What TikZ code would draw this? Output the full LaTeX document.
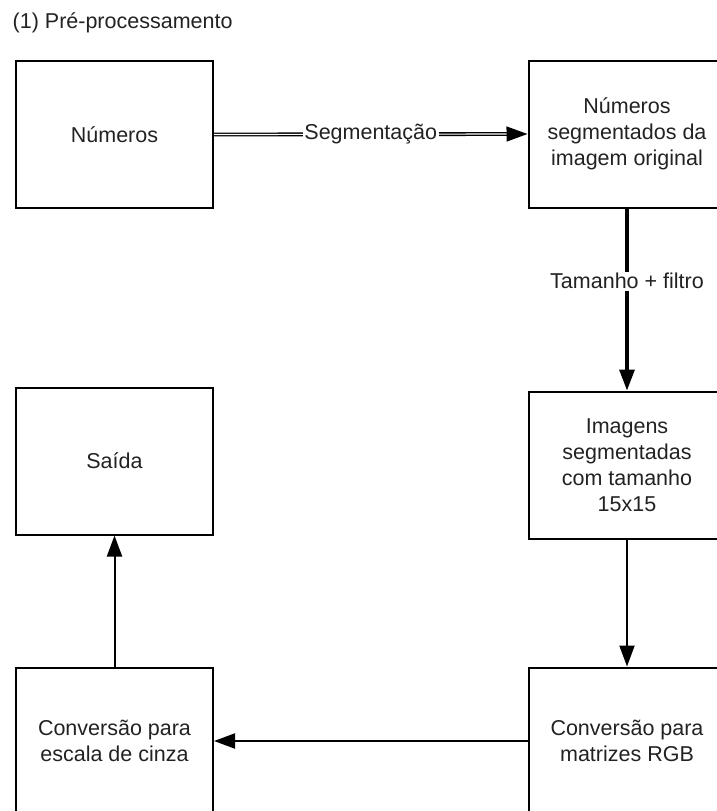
\documentclass[tikz,border=0pt]{standalone}
\usepackage{fontspec}
\setmainfont{Liberation Sans}
\usetikzlibrary{arrows.meta}
\definecolor{ink}{HTML}{222222}
\begin{document}
\begin{tikzpicture}[x=1pt,y=-1pt,
  txt/.style={text=ink, font=\fontsize{21.5}{26}\selectfont},
  box/.style={txt, draw=black, line width=2pt, minimum width=197pt,
    minimum height=147pt, align=center, inner sep=0pt},
  lbl/.style={txt, fill=white, inner sep=1.5pt},
  tip/.style={-{Triangle[length=21pt,width=15pt]}},
  flow/.style={tip, draw=black, line width=2pt},
]
\useasboundingbox (0,0) rectangle (717,811);
\clip (0,0) rectangle (717,811);

% heading
\node[txt, anchor=base west, inner sep=0pt] (title) at (12.5,28) {(1) Pré-processamento};

% process boxes
\node[box] (num)   at (114.5,134.5) {Números};
\node[box] (seg)   at (627,134)   {Números\\segmentados da\\imagem original};
\node[box] (img)   at (627,465)   {Imagens\\segmentadas\\com tamanho\\15x15};
\node[box] (rgb)   at (627,741)   {Conversão para\\matrizes RGB};
\node[box] (cinza) at (114.5,741) {Conversão para\\escala de cinza};
\node[box] (saida) at (114.5,461) {Saída};

% connectors
\draw[tip, line width=1.3pt, double=white, double distance=1.2pt]
  (num.east) -- node[lbl, midway] {Segmentação} (seg.west);
\draw[flow, line width=3.3pt]
  (seg.south) -- node[lbl, pos=0.4] {Tamanho + filtro} (img.north);
\draw[flow] (img.south) -- (rgb.north);
\draw[flow] (rgb.west) -- (cinza.east);
\draw[flow] (cinza.north) -- (saida.south);
\end{tikzpicture}
\end{document}
